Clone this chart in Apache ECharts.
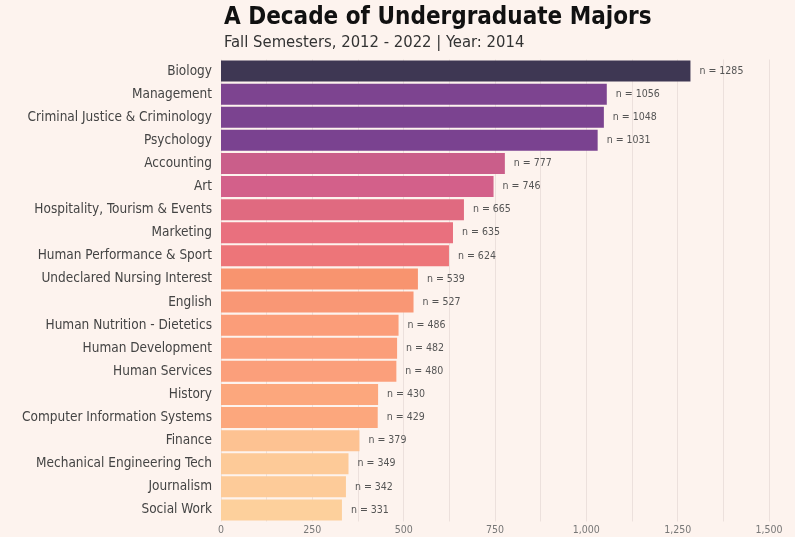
<!DOCTYPE html>
<html>
<head>
<meta charset="utf-8">
<script src="https://cdn.jsdelivr.net/npm/echarts@6/dist/echarts.min.js"></script>
<style>
html,body{margin:0;padding:0;background:#fdf3ee;}
#chart{width:795px;height:537px;}
</style>
</head>
<body>
<div id="chart"></div>
<script>
const categories = ["Biology","Management","Criminal Justice & Criminology","Psychology","Accounting","Art","Hospitality, Tourism & Events","Marketing","Human Performance & Sport","Undeclared Nursing Interest","English","Human Nutrition - Dietetics","Human Development","Human Services","History","Computer Information Systems","Finance","Mechanical Engineering Tech","Journalism","Social Work"];
const counts = [1285,1056,1048,1031,777,746,665,635,624,539,527,486,482,480,430,429,379,349,342,331];
const barColors = ["#3e3753","#7d4490","#7b4390","#7a4290","#ca5e8a","#d3608a","#e06a80","#e9707e","#ed7579","#f8946f","#f99775","#fb9d79","#fb9e7a","#fb9f7b","#fca77d","#fca77d","#fdc292","#fdca98","#fdcb99","#fdd09c"];
const axisTicks = [0,250,500,750,1000,1250,1500];

const FONT = "'Liberation Sans Narrow','DejaVu Sans Condensed',sans-serif";
const chart = echarts.init(document.getElementById('chart'), null, {renderer:'canvas'});
chart.setOption({
  backgroundColor:'#fdf3ee',
  animation:false,
  title:{
    text:'A Decade of Undergraduate Majors',
    subtext:'Fall Semesters, 2012 - 2022 | Year: 2014',
    left:219, top:1, itemGap:4,
    textStyle:{fontFamily:FONT,fontSize:24,fontWeight:'bold',color:'#111'},
    subtextStyle:{fontFamily:FONT,fontSize:16.5,color:'#333'}
  },
  grid:{left:221,right:26,top:59.5,bottom:15.5,containLabel:false},
  xAxis:{
    type:'value', min:0, max:1500, interval:125,
    axisLine:{show:false}, axisTick:{show:false},
    splitLine:{show:true,lineStyle:{color:'#ece0dc',width:1}},
    axisLabel:{
      margin:3, color:'#777', fontFamily:FONT, fontSize:10.5,
      formatter:function(v){ return axisTicks.indexOf(v) >= 0 ? v.toLocaleString('en-US') : ''; }
    }
  },
  yAxis:{
    type:'category', data:categories, inverse:true,
    axisLine:{show:false}, axisTick:{show:false},
    axisLabel:{margin:9,color:'#444',fontFamily:FONT,fontSize:13.5}
  },
  series:[{
    type:'bar',
    data:counts.map((v,i)=>({value:v,itemStyle:{color:barColors[i]}})),
    barCategoryGap:'9%',
    label:{show:true,position:'right',distance:9,color:'#555',fontFamily:FONT,fontSize:10.5,formatter:'n = {c}'}
  }]
});
</script>
</body>
</html>
